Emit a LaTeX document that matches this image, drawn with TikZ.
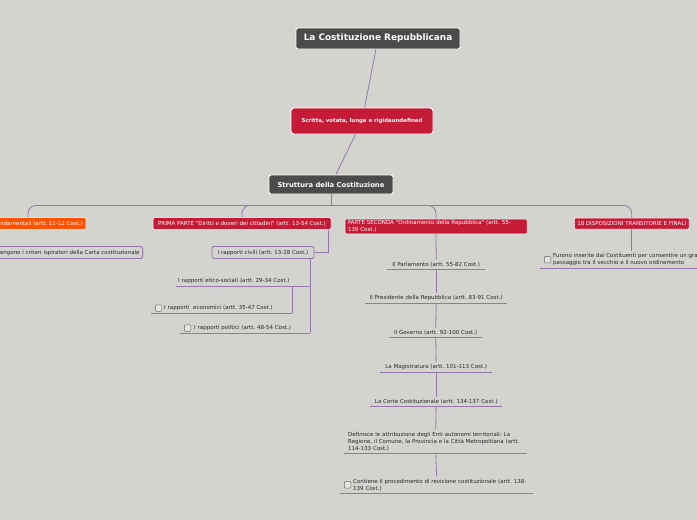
\documentclass[tikz,border=0pt]{standalone}
\usepackage{fontspec}
\usetikzlibrary{positioning}
\newfontfamily\mapfont{DejaVu Sans}
\definecolor{canvas}{RGB}{211,212,208}
\definecolor{charcoal}{RGB}{75,75,73}
\definecolor{crimson}{RGB}{198,27,54}
\definecolor{blaze}{RGB}{255,82,0}
\definecolor{wire}{RGB}{148,122,168}
\definecolor{ink}{RGB}{40,40,40}
\newcommand{\mapsmall}{\mapfont\fontsize{5.5}{7}\selectfont}
\frenchspacing

\begin{document}
\begin{tikzpicture}[x=1pt, y=-1pt,
      darkbox/.style={rectangle, rounded corners=2pt, fill=charcoal, draw=white,
                      line width=0.9pt, text=white},
      redbox/.style={rectangle, rounded corners=1pt, fill=crimson, draw=white,
                     line width=0.5pt, text=white, font=\mapsmall, inner xsep=3pt,
                     minimum height=11pt},
      outbox/.style={rectangle, rounded corners=1.5pt, draw=wire, line width=0.9pt,
                     text=ink, font=\mapsmall, inner xsep=3pt, minimum height=11pt},
      leaf/.style={anchor=south west, inner xsep=0pt, inner ysep=2pt,
                   text=ink, font=\mapsmall},
      chkbox/.style={rectangle, rounded corners=1pt, draw=gray!80!black, fill=canvas!60!white,
                     line width=0.5pt, minimum size=6.5pt, inner sep=0pt, anchor=west},
      link/.style={draw=wire, line width=0.8pt}]
    \fill[canvas] (0,0) rectangle (697,520);
    \clip (0,0) rectangle (697,520);
    \useasboundingbox (0,0) rectangle (697,520);
    % top of the map
    \node[darkbox, minimum width=164pt, minimum height=21pt,
          font=\mapfont\bfseries\fontsize{8.9}{10}\selectfont] (title) at (378,38.5)
      {La Costituzione Repubblicana};
    \node[darkbox, fill=crimson, rounded corners=3pt, minimum width=142pt, minimum height=26pt,
          font=\mapfont\bfseries\fontsize{5.4}{6.5}\selectfont] (scritta) at (362,121)
      {Scritta, votata, lunga e rigidaundefined};
    \node[darkbox, minimum width=124pt, minimum height=19pt,
          font=\mapfont\bfseries\fontsize{6.8}{8}\selectfont] (struct) at (331,184.5)
      {Struttura della Costituzione};
    \draw[link] (title) -- (scritta);
    \draw[link] (scritta) -- (struct);
    % the four parts
    \node[redbox, fill=blaze, anchor=east] (princ) at (86,223.5)
      {Principi fondamentali (artt. 11-12 Cost.)};
    \node[redbox, minimum width=178pt] (prima) at (242,223.5)
      {PRIMA PARTE "Diritti e doveri dei cittadini" (artt. 13-54 Cost.)};
    \node[redbox, text width=176pt, align=left, inner ysep=1.5pt] (seconda) at (436,226.5)
      {PARTE SECONDA "Ordinamento della Repubblica" (artt. 55-\\139 Cost.)};
    \node[redbox, anchor=west] (disp) at (574,223.5)
      {18 DISPOSIZIONI TRANSITORIE E FINALI};
    \draw[link] (struct.south) -- ++(0,11) coordinate (hub);
    \foreach \n in {princ, prima, seconda, disp}
      \draw[link, rounded corners=8pt] (hub) -| (\n.north);
    % principi fondamentali
    \node[outbox, anchor=east] (criteri) at (143,252.5)
      {Contengono i criteri ispiratori della Carta costituzionale};
    % prima parte
    \node[outbox, minimum width=102pt] (civili) at (263,252.5)
      {I rapporti civili (artt. 13-28 Cost.)};
    \draw[link] ([xshift=-3pt]prima.south east) |- (civili.east);
    \node[leaf, text width=134pt, align=left] (etico) at (176,286)
      {\hspace*{2pt}I rapporti etico-sociali (artt. 29-34 Cost.)};
    \node[leaf, text width=141pt, align=left] (econ) at (151,313)
      {\hspace*{13pt}I rapporti\ \ economici (artt. 35-47 Cost.)};
    \node[leaf, text width=130pt, align=left] (polit) at (180,333)
      {\hspace*{14pt}I rapporti politici (artt. 48-54 Cost.)};
    \draw[link] ([xshift=-4pt]civili.south east) -- (polit.south east);
    \draw[link] ([xshift=-18pt]etico.south east) -- (econ.south east);
    % parte seconda
    \node[leaf, text width=98pt, align=center] (parl) at (387,269)
      {Il Parlamento (artt. 55-82 Cost.)};
    \node[leaf, text width=142pt, align=center] (pres) at (365,303)
      {Il Presidente della Repubblica (artt. 83-91 Cost.)};
    \node[leaf, text width=93pt, align=center] (gov) at (389,337)
      {Il Governo (artt. 92-100 Cost.)};
    \node[leaf, text width=112pt, align=center] (magi) at (380,372)
      {La Magistratura (artt. 101-113 Cost.)};
    \node[leaf, text width=132pt, align=center] (corte) at (370,406)
      {La Corte Costituzionale (artt. 134-137 Cost.)};
    \node[leaf, text width=183pt, align=left] (enti) at (344,453)
      {\hspace*{4pt}Definisce le attribuzione degli Enti autonomi territoriali: La\\
       \hspace*{4pt}Regione, il Comune, la Provincia e la Città Metropolitana (artt.\\
       \hspace*{4pt}114-133 Cost.)};
    \node[leaf, text width=193pt, align=left] (revis) at (340,493)
      {\hspace*{13pt}Contiene il procedimento di revisione costituzionale (artt. 138-\\
       \hspace*{13pt}139 Cost.)};
    \draw[link] (seconda.south) -- (parl.north);
    \foreach \u/\v in {parl/pres, pres/gov, gov/magi, magi/corte, corte/enti, enti/revis}
      \draw[link] (\u.south) -- (\v.north);
    % disposizioni finali
    \node[leaf, text width=200pt, align=left] (furono) at (540,268)
      {\hspace*{13pt}Furono inserite dai Costituenti per consentire un graduale\\
       \hspace*{13pt}passaggio tra il vecchio e il nuovo ordinamento};
    \draw[link] (disp.south) -- (disp.south |- furono.north);
    % underlines and check boxes
    \foreach \n in {etico, econ, polit, parl, pres, gov, magi, corte, enti, revis, furono}
      \draw[link] (\n.south west) -- (\n.south east);
    \foreach \n in {econ, polit, revis, furono}
      \node[chkbox, right=4pt of \n.west] (\n-box) {};
  \end{tikzpicture}
\end{document}
